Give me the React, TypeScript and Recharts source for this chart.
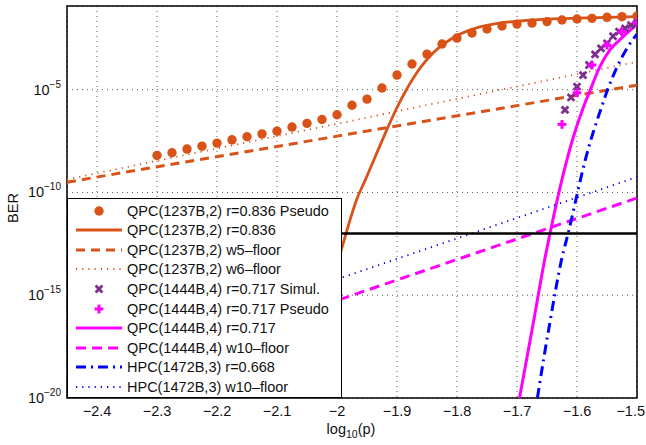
import {
  CartesianGrid,
  ComposedChart,
  Legend,
  Line,
  ReferenceArea,
  ReferenceLine,
  Scatter,
  XAxis,
  YAxis
} from "recharts";

const ORANGE = "#D95319";
const PURPLE = "#7E2F8E";
const MAGENTA = "#FF00FF";
const BLUE = "#0000FF";
const FONT = '"Liberation Sans", Arial, Helvetica, sans-serif';

const X_TICKS = [-2.4, -2.3, -2.2, -2.1, -2.0, -1.9, -1.8, -1.7, -1.6, -1.5];
const Y_TICKS = [-20, -15, -10, -5];
const X_DOMAIN = [-2.45, -1.5];
const Y_DOMAIN = [-20, -0.93];

// every y below is the exponent of the BER (BER = 10^y)
const qpc1237PseudoX = [
  -2.3, -2.275, -2.25, -2.225, -2.2, -2.175, -2.15, -2.125, -2.1, -2.075, -2.05, -2.025, -2.0,
  -1.975, -1.95, -1.925, -1.9, -1.875, -1.85, -1.825, -1.8, -1.775, -1.75, -1.725, -1.7,
  -1.675, -1.65, -1.625, -1.6, -1.575, -1.55, -1.525, -1.5
];
const qpc1237PseudoY = [
  -8.2, -8.07, -7.89, -7.75, -7.6, -7.44, -7.29, -7.15, -7.02, -6.82, -6.64, -6.45, -6.22,
  -5.76, -5.46, -4.92, -4.29, -3.75, -3.27, -2.78, -2.49, -2.24, -2.05, -1.9, -1.81,
  -1.76, -1.69, -1.61, -1.56, -1.53, -1.48, -1.45, -1.42
];

const qpc1237X = [-2.06, -2.03, -2.0, -1.992, -1.967, -1.953, -1.915, -1.902, -1.873, -1.84, -1.807, -1.762, -1.728, -1.695, -1.64, -1.583, -1.5];
const qpc1237Y = [-20.2, -16.6, -13.5, -12.71, -10.33, -9.4, -6.82, -5.99, -4.44, -3.22, -2.49, -1.95, -1.76, -1.66, -1.56, -1.51, -1.45];

const floorX = [-2.45, -1.5];
const qpc1237W5Y = [-9.5, -4.78];
const qpc1237W6Y = [-9.37, -3.64];
const qpc1444W10Y = [-19.74, -10.27];
const hpc1472W10Y = [-18.7, -9.25];

const qpc1444SimulX = [-1.62, -1.61, -1.6, -1.59, -1.58, -1.57, -1.56, -1.55, -1.54, -1.53, -1.52, -1.51, -1.5];
const qpc1444SimulY = [-5.98, -5.38, -4.85, -4.29, -3.8, -3.28, -2.99, -2.75, -2.4, -2.18, -2.02, -1.86, -1.76];

const qpc1444PseudoX = [-1.625, -1.6, -1.575, -1.55, -1.525, -1.5];
const qpc1444PseudoY = [-6.69, -5.15, -3.8, -2.83, -2.18, -1.74];

const qpc1444X = [-1.696, -1.673, -1.653, -1.645, -1.628, -1.606, -1.589, -1.578, -1.562, -1.545, -1.523, -1.501];
const qpc1444Y = [-20.03, -16.38, -13.14, -12.0, -9.73, -7.29, -5.83, -5.02, -3.89, -3.07, -2.42, -1.85];

const hpc1472X = [-1.666, -1.655, -1.645, -1.636, -1.626, -1.614, -1.603, -1.592, -1.581, -1.57, -1.559, -1.549, -1.534, -1.517, -1.5];
const hpc1472Y = [-20.0, -18.0, -16.3, -14.8, -13.3, -11.9, -10.5, -9.1, -7.85, -6.8, -5.85, -5.0, -3.95, -3.0, -2.3];

const targetBerY = -12;

const zip = (xs: number[], ys: number[]) => xs.map((x, i) => ({ x, y: ys[i] }));

const OrangeDot = (p: any) => <circle cx={p.cx} cy={p.cy} r={4.7} fill={ORANGE} />;

const CrossMark = (p: any) => {
  const s = 3.4;
  return (
    <g stroke={PURPLE} strokeWidth={2.8}>
      <line x1={p.cx - s} y1={p.cy - s} x2={p.cx + s} y2={p.cy + s} />
      <line x1={p.cx - s} y1={p.cy + s} x2={p.cx + s} y2={p.cy - s} />
    </g>
  );
};

const PlusMark = (p: any) => {
  const s = 4.4;
  return (
    <g stroke={MAGENTA} strokeWidth={3}>
      <line x1={p.cx - s} y1={p.cy} x2={p.cx + s} y2={p.cy} />
      <line x1={p.cx} y1={p.cy - s} x2={p.cx} y2={p.cy + s} />
    </g>
  );
};

// the last label would run past the page edge, so it is right-aligned to it
const XTick = ({ x, y, payload }: any) => {
  const last = payload.value === X_TICKS[X_TICKS.length - 1];
  return (
    <text
      x={last ? 645 : x}
      y={y + 18}
      textAnchor={last ? "end" : "middle"}
      fontFamily={FONT}
      fontSize={14.5}
      fill="#111"
    >
      {`−${Math.abs(payload.value)}`}
    </text>
  );
};

const YTick = ({ x, y, payload }: any) => (
  <text x={x - 6} y={y + 5} textAnchor="end" fontFamily={FONT} fontSize={14.5} fill="#111">
    <tspan>10</tspan>
    <tspan dy={-7} fontSize={10}>{`−${Math.abs(payload.value)}`}</tspan>
  </text>
);

type LegendRow = { label: string; sample: JSX.Element };

const lineSample = (color: string, width: number, dash?: string) => (
  <line x1={0} y1={6} x2={46} y2={6} stroke={color} strokeWidth={width} strokeDasharray={dash} />
);

const legendRows: LegendRow[] = [
  { label: "QPC(1237B,2) r=0.836 Pseudo", sample: <OrangeDot cx={23} cy={6} /> },
  { label: "QPC(1237B,2) r=0.836", sample: lineSample(ORANGE, 2.8) },
  { label: "QPC(1237B,2) w5–floor", sample: lineSample(ORANGE, 3, "9 6") },
  { label: "QPC(1237B,2) w6–floor", sample: lineSample(ORANGE, 1.8, "1.2 5") },
  { label: "QPC(1444B,4) r=0.717 Simul.", sample: <CrossMark cx={23} cy={6} /> },
  { label: "QPC(1444B,4) r=0.717 Pseudo", sample: <PlusMark cx={23} cy={6} /> },
  { label: "QPC(1444B,4) r=0.717", sample: lineSample(MAGENTA, 3) },
  { label: "QPC(1444B,4) w10–floor", sample: lineSample(MAGENTA, 3, "10 6") },
  { label: "HPC(1472B,3) r=0.668", sample: lineSample(BLUE, 3, "10 5 2 5") },
  { label: "HPC(1472B,3) w10–floor", sample: lineSample(BLUE, 1.8, "1.2 5") }
];

const LegendBox = () => (
  <div
    style={{
      boxSizing: "border-box",
      width: 275,
      height: 200,
      background: "#fff",
      border: "1.5px solid #000",
      paddingTop: 2,
      fontFamily: FONT,
      fontSize: 14.5,
      color: "#111"
    }}
  >
    {legendRows.map((row) => (
      <div key={row.label} style={{ display: "flex", alignItems: "center", height: 19.56, paddingLeft: 8 }}>
        <svg width={46} height={12} style={{ overflow: "visible", flex: "none" }}>
          {row.sample}
        </svg>
        <span style={{ marginLeft: 5, whiteSpace: "nowrap" }}>{row.label}</span>
      </div>
    ))}
  </div>
);

export default function App() {
  return (
    <div style={{ position: "absolute", left: 0, top: 0, width: 646, height: 445, background: "#fff" }}>
      <ComposedChart width={646} height={445} margin={{ top: 6, right: 9, bottom: 0, left: 0 }}>
        <CartesianGrid stroke="#555" strokeDasharray="1 4" />
        <XAxis
          type="number"
          dataKey="x"
          domain={X_DOMAIN}
          ticks={X_TICKS}
          interval={0}
          allowDataOverflow
          height={47}
          axisLine={false}
          tickLine={false}
          tickSize={0}
          tickMargin={0}
          tick={<XTick />}
        />
        <YAxis
          type="number"
          dataKey="y"
          domain={Y_DOMAIN}
          ticks={Y_TICKS}
          interval={0}
          allowDataOverflow
          width={67}
          axisLine={false}
          tickLine={false}
          tickSize={0}
          tickMargin={0}
          tick={<YTick />}
        />
        <Scatter data={zip(qpc1237PseudoX, qpc1237PseudoY)} dataKey="y" shape={OrangeDot} isAnimationActive={false} />
        <Line data={zip(qpc1237X, qpc1237Y)} dataKey="y" type="monotone" stroke={ORANGE} strokeWidth={2.8} dot={false} activeDot={false} isAnimationActive={false} />
        <Line data={zip(floorX, qpc1237W5Y)} dataKey="y" type="linear" stroke={ORANGE} strokeWidth={3} strokeDasharray="9 6" dot={false} activeDot={false} isAnimationActive={false} />
        <Line data={zip(floorX, qpc1237W6Y)} dataKey="y" type="linear" stroke={ORANGE} strokeWidth={1.8} strokeDasharray="1.2 5" dot={false} activeDot={false} isAnimationActive={false} />
        <Scatter data={zip(qpc1444SimulX, qpc1444SimulY)} dataKey="y" shape={CrossMark} isAnimationActive={false} />
        <Scatter data={zip(qpc1444PseudoX, qpc1444PseudoY)} dataKey="y" shape={PlusMark} isAnimationActive={false} />
        <Line data={zip(qpc1444X, qpc1444Y)} dataKey="y" type="monotone" stroke={MAGENTA} strokeWidth={3} dot={false} activeDot={false} isAnimationActive={false} />
        <Line data={zip(floorX, qpc1444W10Y)} dataKey="y" type="linear" stroke={MAGENTA} strokeWidth={3} strokeDasharray="10 6" dot={false} activeDot={false} isAnimationActive={false} />
        <Line data={zip(hpc1472X, hpc1472Y)} dataKey="y" type="monotone" stroke={BLUE} strokeWidth={3} strokeDasharray="10 5 2 5" dot={false} activeDot={false} isAnimationActive={false} />
        <Line data={zip(floorX, hpc1472W10Y)} dataKey="y" type="linear" stroke={BLUE} strokeWidth={1.8} strokeDasharray="1.2 5" dot={false} activeDot={false} isAnimationActive={false} />
        <ReferenceLine y={targetBerY} stroke="#000" strokeWidth={2.4} />
        <ReferenceArea x1={X_DOMAIN[0]} x2={X_DOMAIN[1]} y1={Y_DOMAIN[0]} y2={Y_DOMAIN[1]} fill="none" stroke="#000" strokeWidth={1.5} fillOpacity={0} />
        <Legend
          layout="vertical"
          align="center"
          verticalAlign="middle"
          content={() => <LegendBox />}
          wrapperStyle={{ left: 67, top: 198, width: 275, height: 200, margin: 0 }}
        />
      </ComposedChart>
      <div
        style={{
          position: "absolute",
          left: 251,
          width: 200,
          top: 421,
          textAlign: "center",
          fontFamily: FONT,
          fontSize: 14.5,
          color: "#111"
        }}
      >
        log<sub style={{ fontSize: 10.5 }}>10</sub>(p)
      </div>
      <div
        style={{
          position: "absolute",
          left: 13,
          top: 208,
          transform: "translate(-50%, -50%) rotate(-90deg)",
          fontFamily: FONT,
          fontSize: 14.5,
          color: "#111",
          whiteSpace: "nowrap"
        }}
      >
        BER
      </div>
    </div>
  );
}
